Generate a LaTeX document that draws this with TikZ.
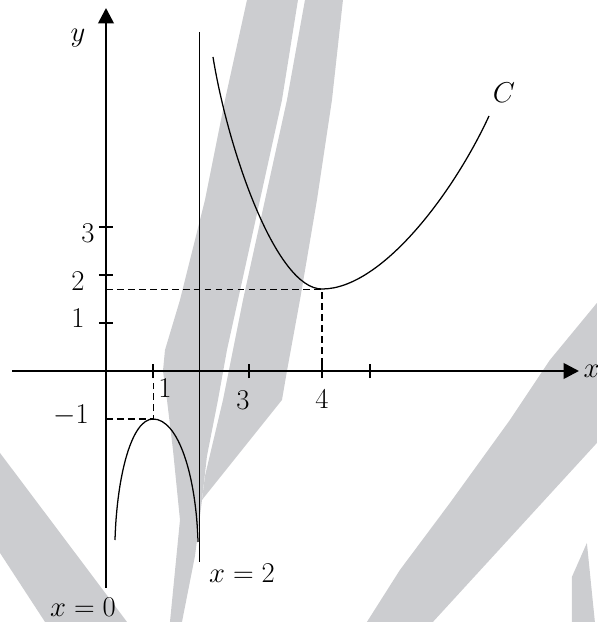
\RequirePackage{fix-cm}
\documentclass[tikz,border=0pt]{standalone}
\usepackage{amsmath}
\usepackage{xcolor}
\usetikzlibrary{arrows.meta}
\definecolor{wmgray}{RGB}{204,205,208}

\begin{document}
\begin{tikzpicture}[
  axis/.style={line width=1.6pt,-{Triangle[length=0.32cm,width=0.32cm]}},
  curve/.style={line width=0.75pt},
  guide/.style={line width=0.6pt,dash pattern=on 4pt off 2.5pt},
  tickmark/.style={line width=0.7pt},
  wmark/.style={fill=wmgray,draw=none},
  font=\fontsize{17}{20}\selectfont]
\useasboundingbox (-2.2083,-5.2292) rectangle (10.2292,7.7292);
% watermark (pixel units)
\begin{scope}[x=0.020833cm,y=-0.020833cm,shift={(-106,-371)}]
\fill[wmark] (247,0) -- (298,0) -- (282,100) -- (260,200) -- (238,300) -- (227,350)
  -- (218,400) -- (207,456) -- (202,500) -- (195,556) -- (182,622) -- (170,622)
  -- (180,520) -- (173,450) -- (167,400) -- (163,371) -- (165,350) -- (180,300)
  -- (205,200) -- (225,100) -- cycle;
\fill[wmark] (305,0) -- (343,0) -- (332,100) -- (317,200) -- (300,300) -- (287,371)
  -- (282,400) -- (202,500) -- (205,476) -- (223,400) -- (243,300) -- (265,200)
  -- (287,100) -- cycle;
\fill[wmark] (0,453) -- (127,622) -- (45,622) -- (0,553) -- cycle;
\fill[wmark] (597,303) -- (550,360) -- (510,420) -- (450,503) -- (400,570)
  -- (367,622) -- (433,622) -- (597,443) -- cycle;
\fill[wmark] (587,543) -- (572,577) -- (572,622) -- (595,622) -- cycle;
\end{scope}

% axes
\coordinate (o) at (0,0);
\coordinate (xl) at (-1.958,0);
\coordinate (xr) at (9.854,0);
\coordinate (yb) at (0,-4.52);
\coordinate (yt) at (0,7.5625);
\draw[axis] (xl) -- (xr) node[right,inner sep=2pt] (xlab) {$x$};
\draw[axis] (yb) -- (yt);
\node (ylab) at (-0.583,6.94) {$y$};

% ticks
\foreach \t in {1,2,3}
  \draw[tickmark] (-0.15,\t) -- (0.15,\t);
\foreach \t in {0.98,2.98,4.5,5.5}
  \draw[tickmark] (\t,-0.15) -- (\t,0.15);
\node (t3) at (-0.375,2.875) {$3$};
\node (t2) at (-0.583,1.875) {$2$};
\node (t1) at (-0.583,1.104) {$1$};
\node (tm1) at (-0.73,-0.917) {$-1$};
\node (s1) at (1.23,-0.354) {$1$};
\node (s3) at (2.854,-0.604) {$3$};
\node (s4) at (4.5,-0.583) {$4$};

% asymptote x=2
\coordinate (asyT) at (1.958,7.0625);
\coordinate (asyB) at (1.958,-3.979);
\draw[line width=0.6pt] (asyT) -- (asyB);
\node (asylab) at (2.833,-4.208) {$x=2$};
\node (ylinelab) at (-0.479,-4.93) {$x=0$};

% turning points
\coordinate (maxp) at (0.98,-1);
\coordinate (minp) at (4.5,1.708);
\draw[guide] (0,-1) -- (maxp) -- (0.98,0);
\draw[guide] (0,1.708) -- (minp) -- (4.5,0);

% curve C
\coordinate (la) at (0.1875,-3.521);
\coordinate (lb) at (1.917,-3.5625);
\coordinate (ra) at (2.229,6.542);
\coordinate (rb) at (7.979,5.3125);
\draw[curve] (la) .. controls (0.229,-2.146) and (0.542,-1) .. (maxp)
  .. controls (1.5,-1) and (1.875,-2.146) .. (lb);
\draw[curve] (ra) .. controls (2.542,4.604) and (3.542,1.708) .. (minp)
  .. controls (5.75,1.708) and (7.25,3.729) .. (rb);
\node (clab) at (8.29,5.79) {$C$};
\end{tikzpicture}
\end{document}
